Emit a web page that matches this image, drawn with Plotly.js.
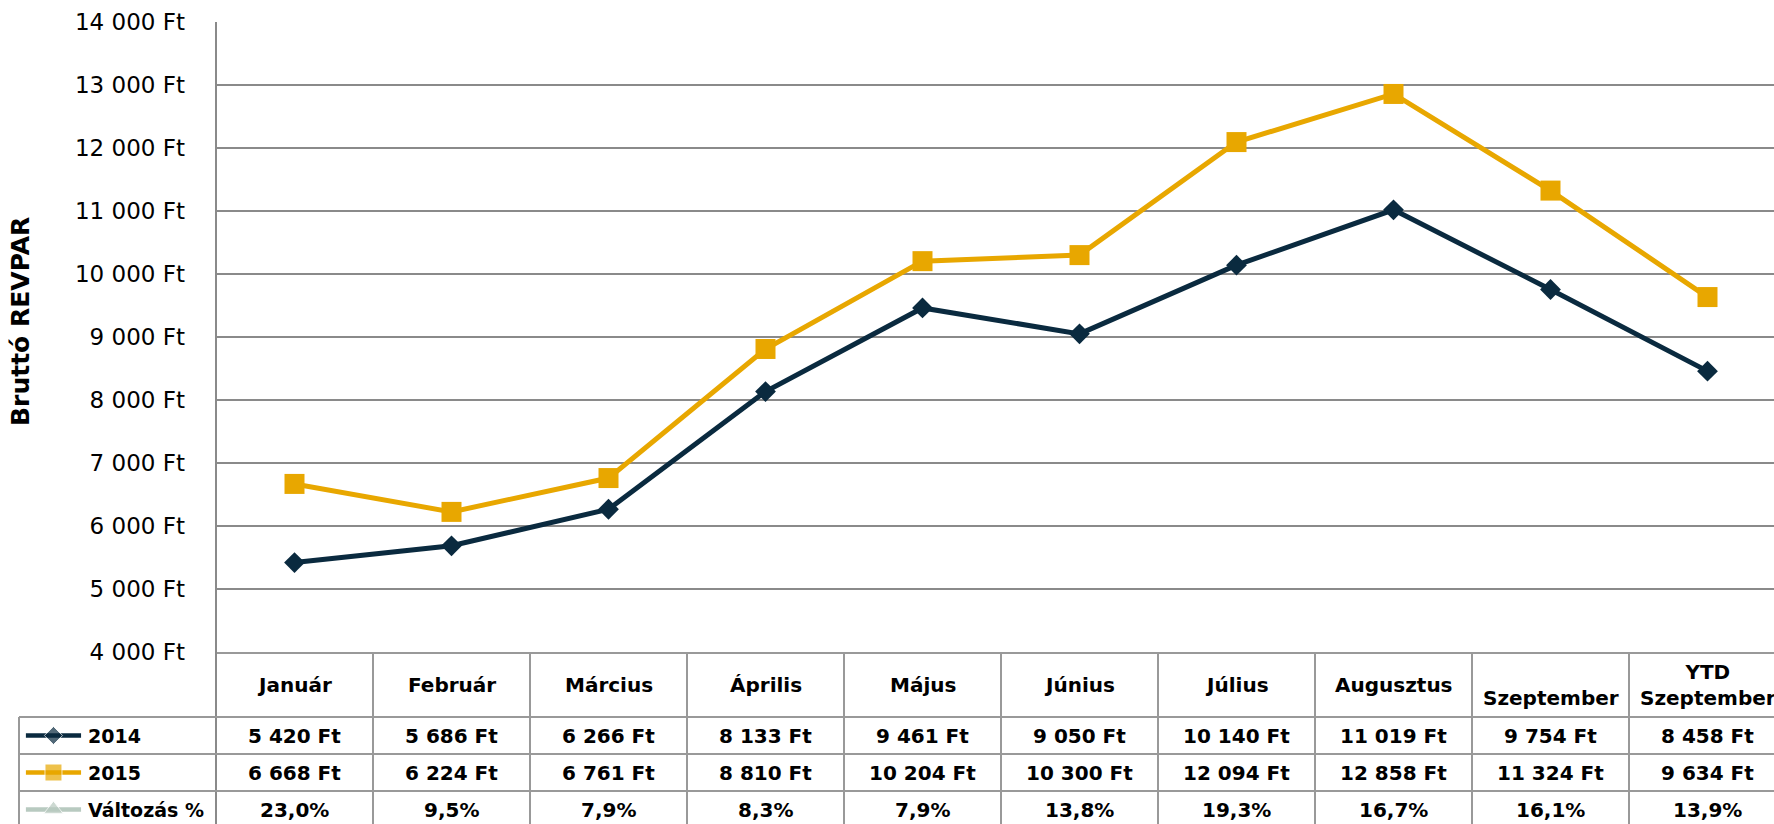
<!DOCTYPE html>
<html>
<head>
<meta charset="utf-8">
<script src="https://cdn.plot.ly/plotly-3.0.1.min.js"></script>
<style>
  html, body { margin: 0; padding: 0; overflow: hidden; background: #fff; }
  #chart { width: 1786px; height: 824px; }
</style>
</head>
<body>
<div id="chart"></div>
<script>
// ---- data ----
var categories = ['Január', 'Február', 'Március', 'Április', 'Május', 'Június', 'Július', 'Augusztus', 'Szeptember', 'YTD Szeptember'];
var revpar2014 = [5420, 5686, 6266, 8133, 9461, 9050, 10140, 11019, 9754, 8458];
var revpar2015 = [6668, 6224, 6761, 8810, 10204, 10300, 12094, 12858, 11324, 9634];
var changePct = [23.0, 9.5, 7.9, 8.3, 7.9, 13.8, 19.3, 16.7, 16.1, 13.9];
var seriesNames = ['2014', '2015', 'Változás %'];
var yTickVals = [4000, 5000, 6000, 7000, 8000, 9000, 10000, 11000, 12000, 13000, 14000];
var yTitle = 'Bruttó REVPAR';

// ---- formatting ----
function ft(v) {
  return String(Math.round(v)).replace(/\B(?=(\d{3})+(?!\d))/g, ' ') + ' Ft';
}
function pctFmt(v) { return v.toFixed(1).replace('.', ',') + '%'; }

// ---- geometry (layout only) ----
var W = 1786, H = 824;
function px(x) { return x / W; }
function py(y) { return 1 - y / H; }
var plotL = 216, plotT = 22, plotB = 652;
var headB = 717, rowH = 37, tableL = 19;

var NAVY = '#0a2a3f', GOLD = '#e8a700', SAGE = '#b8cac0';
var FONT = 'DejaVu Sans, Verdana, sans-serif';
var GRID = '#8a8a8a', TLINE = '#999999';

var traces = [
  {
    x: categories, y: revpar2014, name: seriesNames[0], type: 'scatter', mode: 'lines+markers',
    line: {color: NAVY, width: 5}, marker: {symbol: 'diamond', size: 16, color: NAVY},
    xaxis: 'x', yaxis: 'y', showlegend: false, hoverinfo: 'skip'
  },
  {
    x: categories, y: revpar2015, name: seriesNames[1], type: 'scatter', mode: 'lines+markers',
    line: {color: GOLD, width: 5}, marker: {symbol: 'square', size: 20, color: GOLD},
    xaxis: 'x', yaxis: 'y', showlegend: false, hoverinfo: 'skip'
  }
];

// legend keys in the table's first column
var keyColors = [NAVY, GOLD, SAGE];
var keySymbols = ['diamond', 'square', 'triangle-up'];
var keySizes = [14, 17, 17];
for (var k = 0; k < 3; k++) {
  traces.push({
    x: [0.035, 0.175, 0.315], y: [k, k, k], type: 'scatter', mode: 'lines+markers',
    line: {color: keyColors[k], width: 4.5},
    marker: {symbol: keySymbols[k], size: [0, keySizes[k], 0], color: keyColors[k]},
    xaxis: 'x2', yaxis: 'y2', showlegend: false, hoverinfo: 'skip', cliponaxis: false
  });
}

var annotations = [];
// y axis title
annotations.push({
  text: yTitle, xref: 'paper', yref: 'paper', x: px(21), y: py(322), textangle: -90,
  showarrow: false, font: {family: FONT, size: 25, color: '#000', weight: 'bold'},
  xanchor: 'center', yanchor: 'middle'
});
// header row (category names)
categories.forEach(function (c) {
  annotations.push({
    text: c.replace('YTD ', 'YTD<br>'), xref: 'x', yref: 'paper', x: c, y: py((plotB + headB) / 2),
    yshift: c === 'Szeptember' ? -13 : 0,
    showarrow: false, font: {family: FONT, size: 20, color: '#000', weight: 'bold'},
    xanchor: 'center', yanchor: 'middle', align: 'center'
  });
});
// data rows
var rows = [revpar2014.map(ft), revpar2015.map(ft), changePct.map(pctFmt)];
rows.forEach(function (vals, r) {
  annotations.push({
    text: seriesNames[r], xref: 'x2', yref: 'y2', x: 0.34, y: r,
    showarrow: false, font: {family: FONT, size: 19, color: '#000', weight: 'bold'},
    xanchor: 'left', yanchor: 'middle'
  });
  vals.forEach(function (v, i) {
    annotations.push({
      text: v, xref: 'x', yref: 'y2', x: categories[i], y: r,
      showarrow: false, font: {family: FONT, size: 20, color: '#000', weight: 'bold'},
      xanchor: 'center', yanchor: 'middle'
    });
  });
});

// table grid
var shapes = [];
function ln(x0, y0, x1, y1, xref, col, w) {
  shapes.push({type: 'line', xref: xref || 'paper', yref: 'paper', x0: x0, y0: y0, x1: x1, y1: y1,
    line: {color: col || TLINE, width: w || 2}, layer: 'above'});
}
// left plot/table border
ln(px(plotL), py(plotT), px(plotL), 0, 'paper', GRID, 2);
// table's first column left border
ln(px(tableL), py(headB), px(tableL), 0);
// horizontal row lines
for (var r = 0; r < 3; r++) {
  var yy = py(headB + r * rowH);
  ln(px(tableL), yy, 1, yy);
}
// column separators
for (var i = 1; i < categories.length; i++) {
  ln(i - 0.5, py(plotB), i - 0.5, 0, 'x');
}

var layout = {
  width: W, height: H,
  margin: {l: 0, r: 0, t: 0, b: 0},
  paper_bgcolor: '#fff', plot_bgcolor: '#fff',
  showlegend: false,
  xaxis: {
    domain: [px(plotL), 1], type: 'category', categoryarray: categories,
    range: [-0.5, categories.length - 0.5], showticklabels: false, ticks: '',
    showgrid: false, zeroline: false, showline: true, linecolor: TLINE, linewidth: 2,
    fixedrange: true, anchor: 'y'
  },
  yaxis: {
    domain: [py(plotB), py(plotT)], range: [4000, 14000],
    tickvals: yTickVals, ticktext: yTickVals.map(ft), ticks: '', ticklabelstandoff: 30,
    tickfont: {family: FONT, size: 23, color: '#000'},
    showgrid: true, gridcolor: GRID, gridwidth: 1.5, zeroline: false, showline: false,
    fixedrange: true, anchor: 'x'
  },
  xaxis2: {domain: [px(tableL), px(plotL)], range: [0, 1], visible: false, anchor: 'y2', fixedrange: true},
  yaxis2: {domain: [0, py(headB)], range: [-0.5 + (H - headB) / rowH, -0.5], visible: false, anchor: 'x2', fixedrange: true},
  annotations: annotations,
  shapes: shapes
};

Plotly.newPlot('chart', traces, layout, {displayModeBar: false, staticPlot: true});
</script>
</body>
</html>
